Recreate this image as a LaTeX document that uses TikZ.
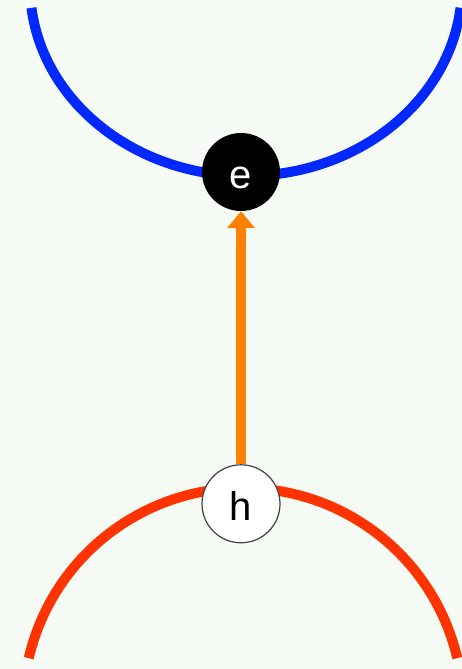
\documentclass[tikz,border=0pt]{standalone}
\usepackage{fontspec}
\setmainfont{Liberation Sans}
\usetikzlibrary{arrows.meta, positioning}
\definecolor{paper}{RGB}{247,251,245}
\definecolor{condblue}{RGB}{0,40,255}
\definecolor{valred}{RGB}{255,51,0}
\definecolor{photonorange}{RGB}{255,128,0}

\begin{document}
\begin{tikzpicture}[x=1pt, y=1pt,
        carrier/.style={circle, minimum size=78pt, inner sep=0pt, font=\fontsize{40}{40}\selectfont, text height=34pt, text depth=0pt},
        band/.style={line width=10pt},
        arrow/.style={-{Triangle[length=17pt, width=27pt]}, line width=10pt, photonorange}
    ]
        % Background
        \fill[paper] (0,0) rectangle (462,669);
        \useasboundingbox (0,0) rectangle (462,669);

        % Bands
        \draw[band, condblue] (246,683) ++(186.6:216pt and 190pt)
            arc[start angle=186.6, end angle=353.4, x radius=216pt, y radius=190pt];
        \draw[band, valred] (243,-39) ++(166.9:220pt)
            arc[start angle=166.9, end angle=13.1, radius=220pt];

        % Nodes
        \node (e) [carrier, fill=black, text=white] at (241,497) {e};
        \node (h) [carrier, fill=white, draw=darkgray, line width=1.2pt, below=253pt of e] {h};

        % Arrows
        \draw [arrow] (h) -- (e);

    \end{tikzpicture}
\end{document}
